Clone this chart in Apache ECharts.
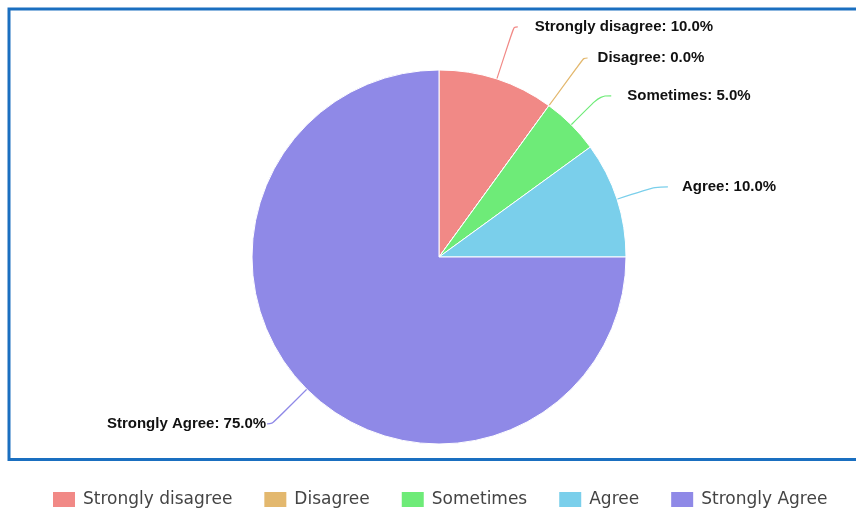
<!DOCTYPE html>
<html>
<head>
<meta charset="utf-8">
<script src="https://cdn.jsdelivr.net/npm/echarts@6/dist/echarts.min.js"></script>
<style>
html,body{margin:0;padding:0;background:#fff;}
#chart{width:856px;height:508px;}
</style>
</head>
<body>
<div id="chart"></div>
<script>
// Data
const categories = ['Strongly disagree', 'Disagree', 'Sometimes', 'Agree', 'Strongly Agree'];
const values = [10, 0, 5, 10, 75];
const colors = ['#f18986', '#e3b86e', '#6eeb78', '#7acfeb', '#8f89e7'];

// label line tuning per slice (style only)
const lineLen = [55, 59, 41, 40, 49];
const lineLen2 = [4, 4, 11, 13, 5];
const labelDist = [17, 10, 16, 14, 1];

const total = values.reduce((a, b) => a + b, 0);

const chart = echarts.init(document.getElementById('chart'), null, {renderer: 'canvas'});
chart.setOption({
  animation: false,
  color: colors,
  graphic: [{
    type: 'rect',
    shape: {x: 9, y: 9, width: 870, height: 450.5},
    style: {fill: 'none', stroke: '#1a6fc0', lineWidth: 3},
    silent: true,
    z: -1
  }],
  legend: {
    data: categories,
    left: 46,
    top: 485,
    icon: 'rect',
    itemWidth: 24,
    itemHeight: 17,
    itemGap: 30,
    textStyle: {fontFamily: 'DejaVu Sans', fontSize: 17, color: '#444', padding: [0, 0, 0, 2]}
  },
  series: [{
    type: 'pie',
    center: [439, 257],
    radius: 187,
    startAngle: 90,
    clockwise: true,
    avoidLabelOverlap: false,
    itemStyle: {borderColor: '#fff', borderWidth: 1},
    label: {
      show: true,
      fontFamily: 'Liberation Sans',
      fontWeight: 'bold',
      fontSize: 15,
      color: '#111',
      formatter: p => p.name + ': ' + (p.value / total * 100).toFixed(1) + '%'
    },
    labelLine: {show: true, smooth: 0.4, lineStyle: {width: 1.2}},
    emphasis: {disabled: true},
    data: categories.map((c, i) => ({
      name: c,
      value: values[i],
      label: {distanceToLabelLine: labelDist[i]},
      labelLine: {length: lineLen[i], length2: lineLen2[i]}
    }))
  }]
});
</script>
</body>
</html>
